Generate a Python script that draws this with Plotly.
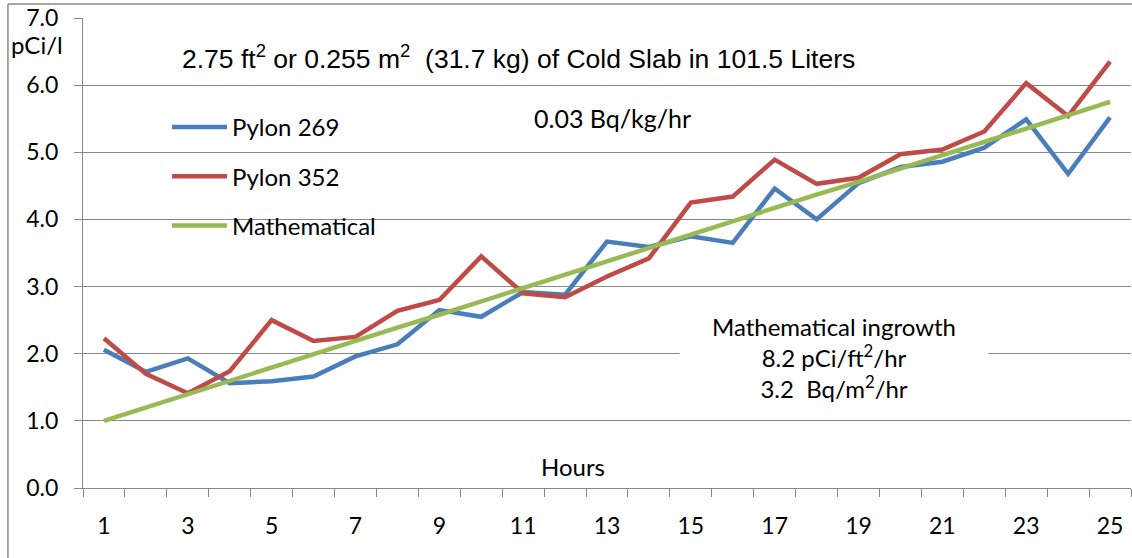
import plotly.graph_objects as go

hours = list(range(1, 26))
pylon_269 = [2.06, 1.73, 1.93, 1.56, 1.59, 1.66, 1.96, 2.14, 2.65, 2.55,
             2.92, 2.88, 3.67, 3.59, 3.75, 3.65, 4.46, 4.00, 4.54, 4.78,
             4.86, 5.07, 5.49, 4.68, 5.52]
pylon_352 = [2.23, 1.70, 1.41, 1.74, 2.50, 2.19, 2.25, 2.64, 2.80, 3.45,
             2.90, 2.84, 3.15, 3.42, 4.25, 4.34, 4.89, 4.53, 4.62, 4.97,
             5.04, 5.31, 6.03, 5.54, 6.35]
mathematical = [1.00, 1.20, 1.40, 1.59, 1.79, 1.99, 2.19, 2.39, 2.58, 2.78,
                2.98, 3.18, 3.38, 3.57, 3.77, 3.97, 4.17, 4.37, 4.56, 4.76,
                4.96, 5.16, 5.36, 5.55, 5.75]
series_names = ["Pylon 269", "Pylon 352", "Mathematical"]
x_tick_labels = [str(h) for h in range(1, 26, 2)]
y_tick_values = [0, 1, 2, 3, 4, 5, 6, 7]

colors = ["#4A7EBB", "#BE4B48", "#98B954"]
TXT = "Lato, Calibri, sans-serif"
GRID = "#878787"

fig = go.Figure()
for name, vals, col in zip(series_names, [pylon_269, pylon_352, mathematical], colors):
    fig.add_trace(go.Scatter(x=hours, y=vals, mode="lines", name=name,
                             legendgroup=name,
                             line=dict(color=col, width=4.5)))

fig.update_layout(
    width=1132, height=558,
    margin=dict(l=83, r=1, t=18, b=70),
    paper_bgcolor="white", plot_bgcolor="white",
    font=dict(family=TXT, size=24, color="black"),
    showlegend=True,
    legend=dict(x=0.0802, y=0.815, xanchor="left", yanchor="top",
                bgcolor="rgba(0,0,0,0)", traceorder="grouped", tracegroupgap=15,
                itemwidth=55, font=dict(family=TXT, size=24, color="black")),
    xaxis=dict(range=[0.5, 25.5], tickmode="array",
               tickvals=[int(t) for t in x_tick_labels], ticktext=x_tick_labels,
               ticks="", showgrid=False, zeroline=False,
               showline=True, linecolor=GRID, linewidth=1,
               tickfont=dict(family=TXT, size=23, color="black"),
               ticklabelstandoff=17,
               minor=dict(tickmode="linear", tick0=0.5, dtick=1,
                          ticks="outside", ticklen=8, tickcolor=GRID,
                          showgrid=False)),
    yaxis=dict(range=[0, 7], tickmode="array", tickvals=y_tick_values,
               tickformat=".1f", ticks="outside", ticklen=8, tickcolor=GRID,
               showgrid=True, gridcolor=GRID, gridwidth=1, zeroline=False,
               showline=True, linecolor=GRID, linewidth=1,
               tickfont=dict(family=TXT, size=23, color="black"),
               ticklabelstandoff=11),
)

annots = [
    dict(text="2.75 ft<sup>2</sup> or 0.255 m<sup>2</sup>  (31.7 kg) of Cold Slab in 101.5 Liters",
         x=0.4155, y=0.917, font=dict(family="Liberation Sans, Arial", size=26.5, color="black")),
    dict(text="0.03 Bq/kg/hr", x=0.5057, y=0.787, font=dict(family=TXT, size=25, color="black")),
    dict(text="Mathematical ingrowth<br>8.2 pCi/ft<sup>2</sup>/hr<br>3.2  Bq/m<sup>2</sup>/hr",
         x=0.7166, y=0.2787, bgcolor="white", width=306, align="center"),
    dict(text="Hours", x=0.4676, y=0.0447),
    dict(text="pCi/l", x=-0.0439, y=0.9426),
]
for a in annots:
    base = dict(xref="paper", yref="paper", showarrow=False,
                xanchor="center", yanchor="middle",
                font=dict(family=TXT, size=24, color="black"))
    base.update(a)
    fig.add_annotation(**base)

# white backing of the legend box (covers gridlines, under traces)
fig.add_shape(type="rect", xref="paper", yref="paper", layer="between",
              x0=0.0687, x1=0.3044, y0=0.506, y1=0.8255,
              fillcolor="white", line=dict(width=0))

# chart area border (left and top)
fig.add_shape(type="line", xref="paper", yref="paper",
              x0=-0.0716, x1=-0.0716, y0=1.03, y1=-0.16,
              line=dict(color="#8a8a8a", width=1.5))
fig.add_shape(type="line", xref="paper", yref="paper",
              x0=-0.0716, x1=1.01, y0=1.03, y1=1.03,
              line=dict(color="#8a8a8a", width=1.5))

fig.write_html("out.html", config={"displayModeBar": False},
               post_script="document.body.style.margin='0px';")
